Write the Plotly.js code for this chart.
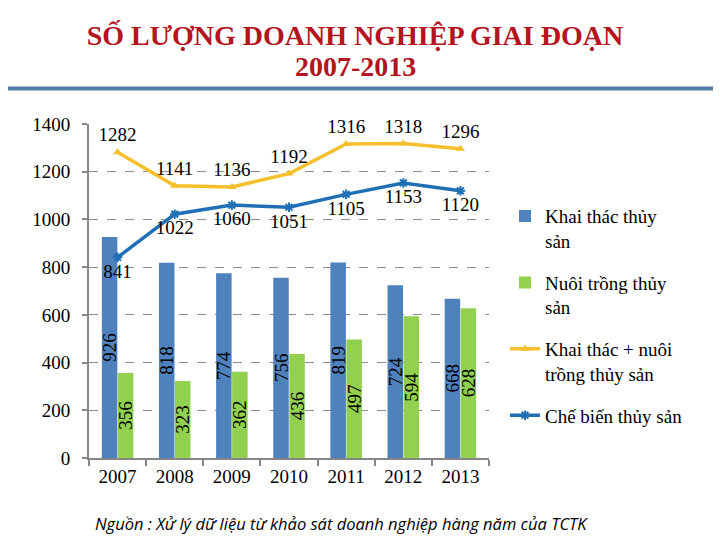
<!DOCTYPE html>
<html><head><meta charset="utf-8">
<script src="https://cdn.plot.ly/plotly-3.0.1.min.js"></script>
<style>html,body{margin:0;padding:0;background:#fff}#chart{width:720px;height:540px}</style>
</head><body><div id="chart"></div>
<script>
var years = ['2007','2008','2009','2010','2011','2012','2013'];
var khaiThac = [926, 818, 774, 756, 819, 724, 668];
var nuoiTrong = [356, 323, 362, 436, 497, 594, 628];
var tongKhaiNuoi = [1282, 1141, 1136, 1192, 1316, 1318, 1296];
var cheBien = [841, 1022, 1060, 1051, 1105, 1153, 1120];

var serif = 'Liberation Serif';
var lbl = {family: serif, size: 19, color: '#000'};

var traces = [
  {type:'bar', name:'Khai thác thủy<br>sản', x:years, y:khaiThac, legendgroup:'a',
   marker:{color:'#4f81bd'}, text:khaiThac.map(String), textposition:'inside',
   insidetextanchor:'middle', textangle:-90, constraintext:'none', textfont:lbl},
  {type:'bar', name:'Nuôi trồng thủy<br>sản', x:years, y:nuoiTrong, legendgroup:'b',
   marker:{color:'#92d050'}, text:nuoiTrong.map(String), textposition:'inside',
   insidetextanchor:'middle', textangle:-90, constraintext:'none', textfont:lbl},
  {type:'scatter', mode:'lines+markers+text', name:'Khai thác + nuôi<br>trồng thủy sản',
   x:years, y:tongKhaiNuoi, legendgroup:'c', cliponaxis:false,
   line:{color:'#f5c02b', width:3.5}, marker:{symbol:'triangle-up', size:8, color:'#f5c02b'},
   text:tongKhaiNuoi.map(String), textposition:'top center', textfont:lbl},
  {type:'scatter', mode:'lines+markers+text', name:'Chế biến thủy sản',
   x:years, y:cheBien, legendgroup:'d', cliponaxis:false,
   line:{color:'#1f6fb5', width:3.5},
   marker:{symbol:'asterisk-open', size:8, color:'#1f6fb5', line:{color:'#1f6fb5', width:2}},
   text:cheBien.map(String), textposition:'bottom center', textfont:lbl}
];

var layout = {
  width:720, height:540,
  margin:{l:89, r:231, t:124, b:82},
  paper_bgcolor:'#fff', plot_bgcolor:'#fff',
  font:{family:serif, size:19, color:'#000'},
  title:{text:'<b>SỐ LƯỢNG DOANH NGHIỆP GIAI ĐOẠN</b>',
    font:{family:serif, size:28, color:'#b3141d'},
    x:0.493, xref:'container', xanchor:'center', y:0.935, yref:'container', yanchor:'middle'},
  barmode:'group', bargap:0.44, bargroupgap:0.03,
  xaxis:{type:'category', showgrid:false, showline:true, linecolor:'#868686', linewidth:2,
    ticks:'outside', tickson:'boundaries', ticklen:6, tickcolor:'#868686', tickwidth:2,
    tickfont:{family:serif, size:19, color:'#000'}, fixedrange:true},
  yaxis:{range:[0,1400], dtick:200, showgrid:true, gridcolor:'#8c8c8c', griddash:'dash', gridwidth:1,
    showline:true, linecolor:'#868686', linewidth:2, ticks:'outside', ticklen:5,
    tickcolor:'#868686', tickwidth:2, zeroline:false,
    tickfont:{family:serif, size:19, color:'#000'}, ticklabelstandoff:8},
  showlegend:true,
  legend:{x:1.04, y:0.781, xanchor:'left', yanchor:'top', traceorder:'grouped',
    tracegroupgap:14, valign:'top', font:{family:serif, size:19, color:'#000'},
    bgcolor:'rgba(0,0,0,0)', itemwidth:30},
  shapes:[{type:'line', xref:'paper', yref:'paper', x0:-0.2025, x1:1.56, y0:1.106, y1:1.106,
    line:{color:'#537ea7', width:4}}],
  annotations:[
    {xref:'paper', yref:'paper', x:0.665, y:1.1707, xanchor:'center', yanchor:'middle',
     showarrow:false, text:'<b>2007-2013</b>', font:{family:serif, size:28, color:'#b3141d'}},
    {xref:'paper', yref:'paper', x:0.01, y:-0.195, xanchor:'left', yanchor:'middle',
    showarrow:false, text:'<i>Nguồn : Xử lý dữ liệu từ khảo sát doanh nghiệp hàng năm của TCTK</i>',
    font:{family:'Open Sans, sans-serif', size:16.5, color:'#000'}}]
};

Plotly.newPlot('chart', traces, layout, {displayModeBar:false, staticPlot:true});
</script></body></html>
